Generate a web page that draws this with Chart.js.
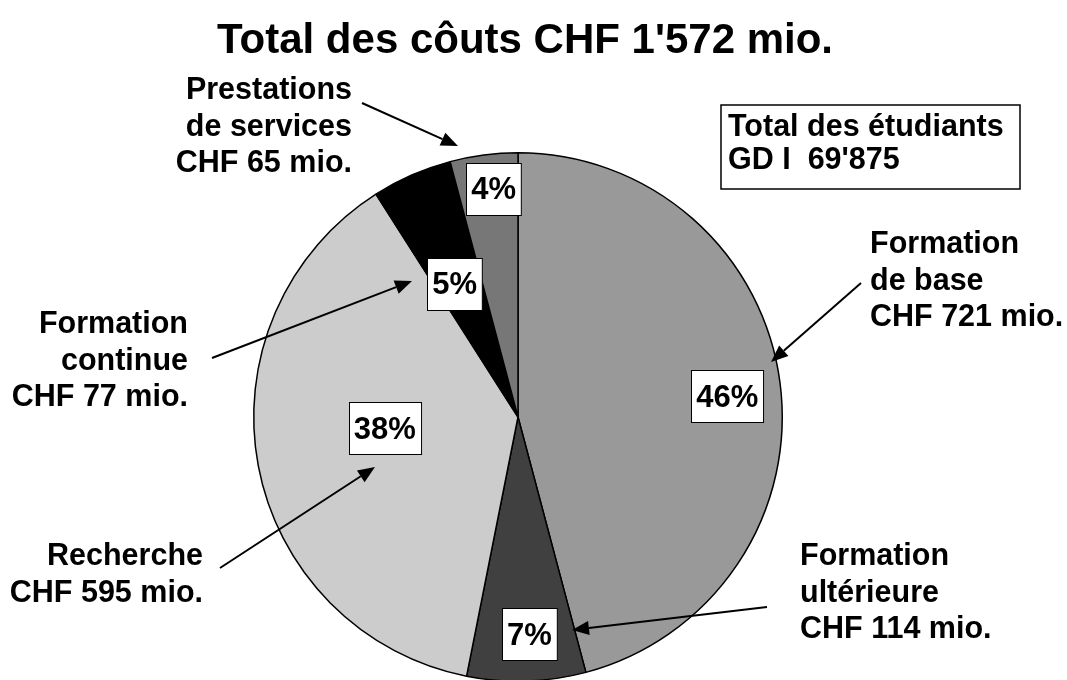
<!DOCTYPE html>
<html>
<head>
<meta charset="utf-8">
<script src="https://cdn.jsdelivr.net/npm/chart.js@4/dist/chart.umd.min.js"></script>
<style>
  html, body { margin: 0; padding: 0; background: #fff; overflow: hidden; }
  #wrap { width: 1067px; height: 690px; }
</style>
</head>
<body>
<div id="wrap"><canvas id="chart" width="1067" height="690"></canvas></div>
<script>
// Data (CHF mio.)
const categories = ['Formation de base', 'Formation ultérieure', 'Recherche', 'Formation continue', 'Prestations de services'];
const calloutNames = [['Formation', 'de base'], ['Formation', 'ultérieure'], ['Recherche'], ['Formation', 'continue'], ['Prestations', 'de services']];
const costs = [721, 114, 595, 77, 65];
const sliceColors = ['#999999', '#404040', '#cccccc', '#000000', '#777777'];
const studentsLabel = ['Total des étudiants', "GD I  69'875"];

const total = costs.reduce((a, b) => a + b, 0);
const fmt = n => String(n).replace(/\B(?=(\d{3})+(?!\d))/g, "'");
const titleText = 'Total des côuts CHF ' + fmt(total) + ' mio.';

const FONT = '"Liberation Sans", Arial, sans-serif';

// percentage box centres, in units of the pie radius from its centre
const pctOffsets = [[0.792, -0.079], [0.043, 0.823], [-0.504, 0.042], [-0.240, -0.504], [-0.092, -0.864]];

// callout text: anchor x, first baseline, alignment; arrow from -> to
const callouts = [
  { x: 870, y: 253, align: 'left',  from: [861, 283], to: [771, 362] },
  { x: 800, y: 565, align: 'left',  from: [767, 607], to: [572, 630] },
  { x: 203, y: 565, align: 'right', from: [220, 568], to: [375, 467] },
  { x: 188, y: 333, align: 'right', from: [212, 358], to: [412, 281] },
  { x: 352, y: 99,  align: 'right', from: [362, 103], to: [458, 146] },
];

function arrow(ctx, from, to) {
  const ang = Math.atan2(to[1] - from[1], to[0] - from[0]);
  const head = 17, half = 7;
  const bx = to[0] - head * Math.cos(ang), by = to[1] - head * Math.sin(ang);
  ctx.strokeStyle = '#000';
  ctx.lineWidth = 2;
  ctx.beginPath();
  ctx.moveTo(from[0], from[1]);
  ctx.lineTo(bx, by);
  ctx.stroke();
  ctx.fillStyle = '#000';
  ctx.beginPath();
  ctx.moveTo(to[0], to[1]);
  ctx.lineTo(bx + half * Math.sin(ang), by - half * Math.cos(ang));
  ctx.lineTo(bx - half * Math.sin(ang), by + half * Math.cos(ang));
  ctx.closePath();
  ctx.fill();
}

const annotations = {
  id: 'annotations',
  afterDraw(chart) {
    const ctx = chart.ctx;
    const meta = chart.getDatasetMeta(0);
    ctx.save();

    // title
    ctx.fillStyle = '#000';
    ctx.font = 'bold 42px ' + FONT;
    ctx.textAlign = 'center';
    ctx.textBaseline = 'alphabetic';
    ctx.fillText(titleText, 525, 53);

    // students box
    ctx.lineWidth = 1.5;
    ctx.strokeStyle = '#000';
    ctx.fillStyle = '#fff';
    ctx.fillRect(721, 105, 299, 84);
    ctx.strokeRect(721, 105, 299, 84);
    ctx.fillStyle = '#000';
    ctx.font = 'bold 30.5px ' + FONT;
    ctx.textAlign = 'left';
    ctx.fillText(studentsLabel[0], 728, 136);
    ctx.fillText(studentsLabel[1], 728, 169);

    // callouts
    callouts.forEach((c, i) => {
      const lines = calloutNames[i].concat(['CHF ' + fmt(costs[i]) + ' mio.']);
      ctx.font = 'bold 30.5px ' + FONT;
      ctx.textAlign = c.align;
      ctx.fillStyle = '#000';
      lines.forEach((t, k) => ctx.fillText(t, c.x, c.y + k * 36.5));
      arrow(ctx, c.from, c.to);
    });

    // percentage boxes
    meta.data.forEach((arc, i) => {
      const r = arc.outerRadius;
      const cx = arc.x + pctOffsets[i][0] * r;
      const cy = arc.y + pctOffsets[i][1] * r;
      const txt = Math.round(costs[i] / total * 100) + '%';
      ctx.font = 'bold 31px ' + FONT;
      const w = Math.max(53, ctx.measureText(txt).width + 10);
      const h = 52;
      const x0 = Math.round(cx - w / 2) + 0.5, y0 = Math.round(cy - h / 2) + 0.5;
      ctx.fillStyle = '#fff';
      ctx.fillRect(x0, y0, w, h);
      ctx.strokeStyle = '#000';
      ctx.lineWidth = 1;
      ctx.strokeRect(x0, y0, w, h);
      ctx.fillStyle = '#000';
      ctx.textAlign = 'center';
      ctx.textBaseline = 'middle';
      ctx.fillText(txt, cx, cy + 2);
      ctx.textBaseline = 'alphabetic';
    });

    ctx.restore();
  }
};

new Chart(document.getElementById('chart').getContext('2d'), {
  type: 'pie',
  data: {
    labels: categories,
    datasets: [{
      data: costs,
      backgroundColor: sliceColors,
      borderColor: '#000',
      borderWidth: 1.5,
    }],
  },
  options: {
    responsive: false,
    animation: false,
    layout: { padding: { top: 152, bottom: 8, left: 0, right: 31 } },
    plugins: {
      legend: { display: false },
      title: { display: false },
      tooltip: { enabled: false },
    },
  },
  plugins: [annotations],
});
</script>
</body>
</html>
